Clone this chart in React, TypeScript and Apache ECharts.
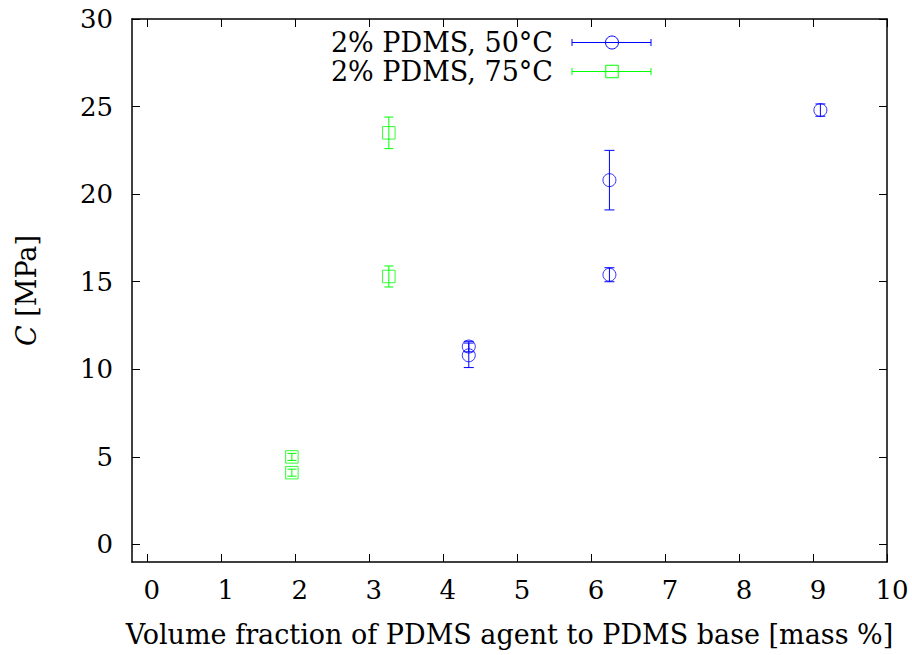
import React, { useEffect, useRef } from "react";
import * as echarts from "echarts";

// ---- data ----
const x50 = [4.35, 4.35, 6.25, 6.25, 9.1];
const y50 = [11.3, 10.8, 20.8, 15.4, 24.8];
const e50 = [0.3, 0.7, 1.7, 0.4, 0.35];

const x75 = [1.96, 1.96, 3.27, 3.27];
const y75 = [5.0, 4.1, 23.5, 15.3];
const e75 = [0.2, 0.2, 0.9, 0.6];

const xTicks = [0, 1, 2, 3, 4, 5, 6, 7, 8, 9, 10];
const yTicks = [0, 5, 10, 15, 20, 25, 30];

const legendLabels = ["2% PDMS, 50°C", "2% PDMS, 75°C"];
const xName = "Volume fraction of PDMS agent to PDMS base [mass %]";

const BLUE = "#0000ff";
const GREEN = "#00ff00";
const FONT = "DejaVu Serif";

function errSeries(xs: number[], ys: number[], es: number[], color: string, hw: number) {
  return {
    type: "custom",
    silent: true,
    z: 3,
    encode: { x: 0, y: [1, 2] },
    data: xs.map((x, i) => [x, ys[i] - es[i], ys[i] + es[i]]),
    renderItem: (_p: any, api: any) => {
      const x = api.value(0);
      const lo = api.coord([x, api.value(1)]);
      const hi = api.coord([x, api.value(2)]);
      const st = { stroke: color, lineWidth: 1 };
      return {
        type: "group",
        children: [
          { type: "line", shape: { x1: lo[0], y1: lo[1], x2: hi[0], y2: hi[1] }, style: st },
          { type: "line", shape: { x1: lo[0] - hw, y1: lo[1], x2: lo[0] + hw, y2: lo[1] }, style: st },
          { type: "line", shape: { x1: hi[0] - hw, y1: hi[1], x2: hi[0] + hw, y2: hi[1] }, style: st },
        ],
      };
    },
  };
}

export default function App() {
  const ref = useRef<HTMLDivElement>(null);
  useEffect(() => {
    if (!ref.current) return;
    const chart = echarts.init(ref.current, undefined, { renderer: "svg" });
    const axisLine = { show: true, onZero: false, lineStyle: { color: "#000", width: 1.5 } };
    const tick = { show: true, inside: true, length: 8, lineStyle: { color: "#000", width: 1 } };
    const ly1 = 42.5;
    const ly2 = 71.5;
    const lx1 = 572;
    const lx2 = 651;
    const lxc = 612;
    const legendStyle = (color: string) => ({ stroke: color, lineWidth: 1 });
    const legendText = (text: string, y: number) => ({
      type: "text",
      style: {
        text,
        x: 553,
        y,
        align: "right",
        verticalAlign: "middle",
        fontFamily: FONT,
        fontSize: 27,
        fill: "#000",
      },
    });
    chart.setOption({
      animation: false,
      backgroundColor: "#fff",
      textStyle: { fontFamily: FONT },
      grid: { left: 132, right: 25, top: 19, bottom: 93, containLabel: false },
      xAxis: [
        {
          type: "value",
          min: -0.2,
          max: 10,
          position: "bottom",
          axisLine,
          axisTick: { ...tick, customValues: xTicks },
          axisLabel: {
            customValues: xTicks,
            color: "#000",
            fontFamily: FONT,
            fontSize: 26,
            margin: 15,
            padding: [0, 0, 0, 10],
          },
          splitLine: { show: false },
          name: xName,
          nameLocation: "middle",
          nameGap: 59,
          nameTextStyle: { color: "#000", fontFamily: FONT, fontSize: 27 },
        },
        {
          type: "value",
          min: -0.2,
          max: 10,
          position: "top",
          axisLine,
          axisTick: { ...tick, customValues: xTicks },
          axisLabel: { show: false },
          splitLine: { show: false },
        },
      ],
      yAxis: [
        {
          type: "value",
          min: -1,
          max: 30,
          position: "left",
          axisLine,
          axisTick: { ...tick, customValues: yTicks },
          axisLabel: {
            customValues: yTicks,
            color: "#000",
            fontFamily: FONT,
            fontSize: 26,
            margin: 19,
          },
          splitLine: { show: false },
          name: "{i|C}{a| [MPa]}",
          nameLocation: "middle",
          nameRotate: 90,
          nameGap: 92,
          nameTextStyle: {
            color: "#000",
            fontFamily: FONT,
            fontSize: 27,
            rich: {
              i: { fontFamily: FONT, fontSize: 27, fontStyle: "italic", color: "#000" },
              a: { fontFamily: FONT, fontSize: 27, color: "#000" },
            },
          },
        },
        {
          type: "value",
          min: -1,
          max: 30,
          position: "right",
          axisLine,
          axisTick: { ...tick, customValues: yTicks },
          axisLabel: { show: false },
          splitLine: { show: false },
        },
      ],
      series: [
        errSeries(x50, y50, e50, BLUE, 5),
        {
          type: "scatter",
          z: 4,
          symbol: "circle",
          symbolSize: 13,
          itemStyle: { color: "rgba(0,0,0,0)", borderColor: BLUE, borderWidth: 1 },
          data: x50.map((x, i) => [x, y50[i]]),
        },
        errSeries(x75, y75, e75, GREEN, 4.5),
        {
          type: "scatter",
          z: 4,
          symbol: "rect",
          symbolSize: 12.5,
          itemStyle: { color: "rgba(0,0,0,0)", borderColor: GREEN, borderWidth: 1 },
          data: x75.map((x, i) => [x, y75[i]]),
        },
      ],
      graphic: [
        legendText(legendLabels[0], ly1),
        legendText(legendLabels[1], ly2),
        { type: "line", shape: { x1: lx1, y1: ly1, x2: lx2, y2: ly1 }, style: legendStyle(BLUE) },
        { type: "line", shape: { x1: lx1, y1: ly1 - 3.5, x2: lx1, y2: ly1 + 3.5 }, style: legendStyle(BLUE) },
        { type: "line", shape: { x1: lx2, y1: ly1 - 3.5, x2: lx2, y2: ly1 + 3.5 }, style: legendStyle(BLUE) },
        { type: "circle", shape: { cx: lxc, cy: ly1, r: 6.5 }, style: { ...legendStyle(BLUE), fill: "none" } },
        { type: "line", shape: { x1: lx1, y1: ly2, x2: lx2, y2: ly2 }, style: legendStyle(GREEN) },
        { type: "line", shape: { x1: lx1, y1: ly2 - 3.5, x2: lx1, y2: ly2 + 3.5 }, style: legendStyle(GREEN) },
        { type: "line", shape: { x1: lx2, y1: ly2 - 3.5, x2: lx2, y2: ly2 + 3.5 }, style: legendStyle(GREEN) },
        { type: "rect", shape: { x: lxc - 6.25, y: ly2 - 6.25, width: 12.5, height: 12.5 }, style: { ...legendStyle(GREEN), fill: "none" } },
      ],
    });
    return () => chart.dispose();
  }, []);
  return (
    <div
      ref={ref}
      style={{ position: "fixed", left: 0, top: 0, width: 912, height: 655, background: "#fff" }}
    />
  );
}
